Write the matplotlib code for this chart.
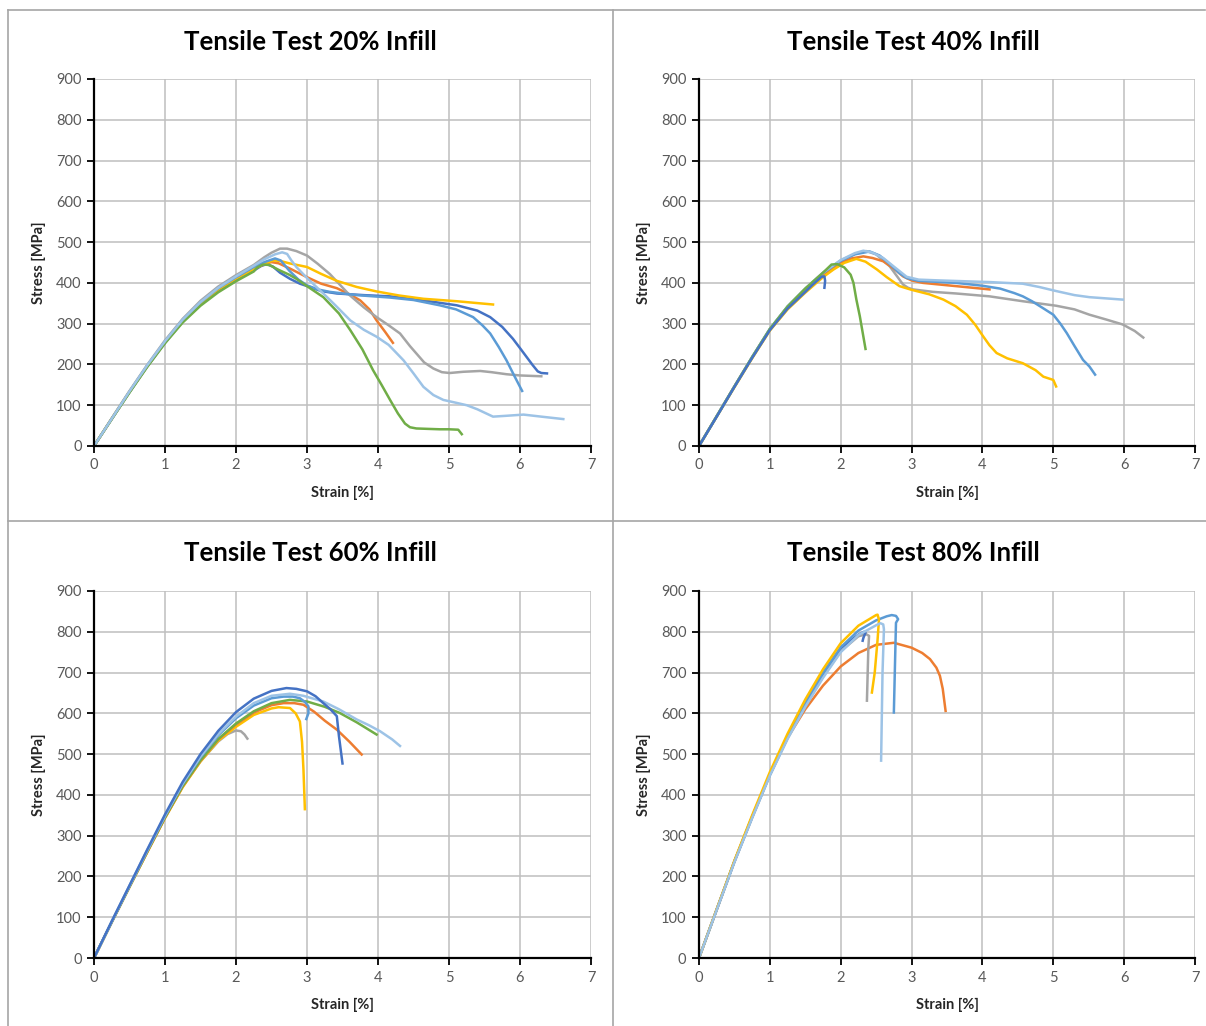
#!/usr/bin/env python3
import matplotlib.pyplot as plt
from matplotlib.lines import Line2D

# Excel-like colour palette
C_DBLUE = '#4472C4'
C_MBLUE = '#5B9BD5'
C_LBLUE = '#9DC3E6'
C_ORANGE = '#ED7D31'
C_GRAY = '#A5A5A5'
C_YELLOW = '#FFC000'
C_GREEN = '#70AD47'

# strain steps used for the elastic part of every curve
RISE = [0, 0.25, 0.5, 0.75, 1.0, 1.25, 1.5, 1.75, 2.0, 2.25, 2.5]

# ---- 20% infill: strain [%] / stress [MPa] ----
e20_dblue = RISE[:10] + [2.35, 2.43, 2.52, 2.62, 2.76, 2.9, 3.04, 3.2, 3.42, 3.8, 4.17, 4.64, 5.11, 5.4,
                         5.58, 5.75, 5.9, 6.0, 6.09, 6.18, 6.25, 6.3, 6.38]
s20_dblue = [0, 66, 132, 195, 253, 305, 347, 381, 408, 430, 441, 446, 440, 425, 410, 398, 390, 380, 374, 370,
             367, 357, 345, 332, 316, 292, 263, 240, 219, 198, 183, 179, 178]
e20_orange = RISE[:10] + [2.4, 2.5, 2.6, 2.75, 3.0, 3.2, 3.42, 3.6, 3.75, 3.88, 3.98, 4.1, 4.21]
s20_orange = [0, 67, 133, 196, 255, 307, 350, 384, 411, 434, 446, 451, 448, 436, 414, 398, 387, 372, 357, 335,
              308, 280, 253]
e20_gray = RISE[:10] + [2.4, 2.5, 2.62, 2.72, 2.85, 3.0, 3.15, 3.32, 3.45, 3.6, 3.8, 3.98, 4.15, 4.31, 4.45,
                        4.54, 4.65, 4.78, 4.9, 5.01, 5.2, 5.44, 5.6, 5.81, 6.0, 6.3]
s20_gray = [0, 68, 135, 199, 259, 312, 356, 391, 419, 444, 463, 474, 484, 484, 478, 467, 447, 422, 398, 370,
            340, 316, 296, 276, 245, 227, 205, 190, 181, 179, 182, 184, 181, 176, 173, 171]
e20_yellow = RISE[:10] + [2.4, 2.52, 2.62, 2.75, 3.0, 3.2, 3.42, 3.7, 3.98, 4.3, 4.64, 5.11, 5.62]
s20_yellow = [0, 67, 133, 196, 255, 307, 350, 384, 411, 434, 447, 455, 454, 448, 439, 422, 405, 390, 379, 369,
              361, 355, 347]
e20_mblue = RISE[:10] + [2.4, 2.55, 2.63, 2.75, 2.88, 3.0, 3.15, 3.32, 3.7, 4.17, 4.5, 4.87, 5.1, 5.34, 5.47,
                         5.58, 5.7, 5.81, 5.92, 6.03]
s20_mblue = [0, 67, 133, 197, 256, 309, 352, 387, 414, 439, 451, 460, 455, 430, 408, 394, 384, 378, 370, 364,
             358, 345, 335, 316, 296, 276, 243, 210, 172, 135]
e20_green = RISE[:10] + [2.3, 2.38, 2.47, 2.6, 2.75, 2.85, 3.0, 3.23, 3.45, 3.61, 3.78, 3.93, 4.05, 4.17, 4.28,
                         4.38, 4.45, 4.54, 4.7, 4.87, 5.0, 5.13, 5.18]
s20_green = [0, 66, 131, 194, 252, 303, 344, 377, 404, 428, 438, 445, 444, 432, 420, 410, 392, 365, 325, 284,
             237, 186, 150, 113, 80, 55, 46, 43, 42, 41, 41, 40, 29]
e20_lblue = RISE[:10] + [2.4, 2.55, 2.65, 2.72, 2.78, 2.85, 3.0, 3.23, 3.4, 3.61, 3.8, 3.98, 4.15, 4.36, 4.5,
                         4.64, 4.78, 4.92, 5.1, 5.25, 5.4, 5.62, 5.8, 6.05, 6.3, 6.61]
s20_lblue = [0, 67, 134, 198, 257, 310, 353, 388, 416, 442, 458, 470, 475, 471, 455, 439, 412, 374, 345, 308,
             285, 268, 248, 210, 178, 145, 125, 113, 106, 100, 90, 72, 74, 77, 72, 66]

# ---- 40% infill ----
e40_gray = RISE[:9] + [2.2, 2.36, 2.5, 2.69, 2.8, 2.88, 2.95, 3.02, 3.3, 3.63, 4.1, 4.57, 5.04, 5.3, 5.51, 5.75,
                       5.98, 6.15, 6.27]
s40_gray = [0, 73, 146, 218, 287, 342, 386, 425, 455, 471, 478, 470, 441, 415, 396, 388, 384, 378, 374, 367, 355,
            344, 335, 322, 310, 298, 282, 266]
e40_orange = RISE[:8] + [2.0, 2.15, 2.32, 2.45, 2.6, 2.75, 2.88, 3.0, 3.16, 3.63, 4.1]
s40_orange = [0, 73, 146, 217, 285, 339, 382, 420, 450, 460, 465, 461, 453, 435, 416, 406, 400, 392, 384]
e40_yellow = RISE[:7] + [1.75, 1.9, 2.05, 2.22, 2.35, 2.51, 2.65, 2.83, 3.0, 3.25, 3.45, 3.62, 3.78, 3.9, 4.01,
                         4.1, 4.2, 4.35, 4.57, 4.75, 4.86, 5.0, 5.04]
s40_yellow = [0, 72, 144, 215, 283, 335, 376, 414, 433, 449, 459, 452, 433, 414, 392, 383, 372, 359, 343, 322,
              297, 269, 247, 228, 215, 203, 186, 170, 162, 146]
e40_mblue = RISE[:9] + [2.2, 2.41, 2.55, 2.7, 2.82, 2.93, 3.1, 3.63, 4.0, 4.25, 4.45, 4.57, 4.7, 4.81, 5.0, 5.1,
                        5.19, 5.3, 5.42, 5.51, 5.59]
s40_mblue = [0, 73, 146, 218, 287, 342, 385, 424, 454, 470, 477, 467, 445, 425, 412, 405, 400, 393, 386, 375, 367,
             355, 343, 322, 300, 277, 245, 211, 195, 175]
e40_lblue = RISE[:9] + [2.2, 2.32, 2.45, 2.6, 2.75, 2.93, 3.1, 3.4, 4.1, 4.57, 4.8, 5.04, 5.3, 5.51, 5.98]
s40_lblue = [0, 73, 146, 218, 287, 342, 386, 425, 456, 473, 479, 474, 461, 440, 415, 408, 406, 402, 398, 390, 380,
             370, 365, 359]
e40_green = RISE[:8] + [1.87, 1.95, 2.05, 2.14, 2.18, 2.22, 2.27, 2.35]
s40_green = [0, 73, 146, 218, 287, 342, 386, 425, 445, 446, 438, 420, 400, 360, 318, 238]
e40_dblue = RISE[:7] + [1.6, 1.73, 1.77, 1.78, 1.77]
s40_dblue = [0, 72, 145, 216, 284, 337, 378, 395, 415, 416, 405, 388]

# ---- 60% infill ----
e60_gray = RISE[:8] + [1.88, 2.0, 2.07, 2.12, 2.16]
s60_gray = [0, 88, 175, 261, 345, 421, 482, 531, 549, 558, 556, 548, 538]
e60_yellow = RISE + [2.6, 2.76, 2.84, 2.9, 2.93, 2.95, 2.97]
s60_yellow = [0, 88, 174, 259, 343, 419, 482, 533, 567, 596, 612, 615, 613, 600, 580, 530, 463, 365]
e60_orange = RISE + [2.67, 2.82, 2.95, 3.1, 3.25, 3.42, 3.6, 3.77]
s60_orange = [0, 88, 175, 260, 344, 421, 484, 536, 573, 602, 620, 625, 625, 621, 604, 582, 560, 530, 499]
e60_green = RISE + [2.76, 3.0, 3.25, 3.46, 3.7, 3.98]
s60_green = [0, 88, 175, 261, 345, 422, 485, 537, 575, 605, 625, 633, 629, 616, 601, 578, 548]
e60_mblue = RISE + [2.67, 2.8, 2.9, 2.97, 3.02, 3.02, 2.99]
s60_mblue = [0, 89, 176, 263, 348, 427, 492, 546, 588, 619, 637, 641, 641, 637, 628, 617, 600, 586]
e60_lblue = RISE + [2.76, 2.95, 3.23, 3.45, 3.7, 3.87, 4.03, 4.2, 4.31]
s60_lblue = [0, 89, 177, 264, 349, 428, 494, 549, 592, 625, 643, 648, 643, 629, 610, 585, 571, 556, 536, 520]
e60_dblue = RISE + [2.71, 2.85, 3.0, 3.12, 3.23, 3.33, 3.42, 3.45, 3.5]
s60_dblue = [0, 90, 178, 266, 352, 432, 500, 557, 603, 636, 655, 662, 660, 654, 642, 625, 610, 593, 544, 477]

# ---- 80% infill ----
e80_orange = RISE + [2.75, 3.0, 3.15, 3.26, 3.35, 3.4, 3.44, 3.48]
s80_orange = [0, 119, 237, 346, 450, 540, 610, 668, 715, 748, 768, 773, 761, 748, 733, 712, 692, 660, 606]
e80_gray = RISE[:10] + [2.36, 2.4, 2.39, 2.37]
s80_gray = [0, 118, 236, 344, 448, 539, 618, 690, 752, 789, 794, 790, 760, 631]
e80_dblue = RISE[:10] + [2.33, 2.35, 2.32, 2.31]
s80_dblue = [0, 119, 237, 346, 450, 542, 625, 698, 760, 793, 800, 798, 785, 778]
e80_mblue = RISE + [2.65, 2.72, 2.78, 2.81, 2.78, 2.77, 2.75]
s80_mblue = [0, 119, 237, 346, 450, 542, 625, 698, 762, 803, 828, 838, 841, 839, 831, 822, 750, 602]
e80_yellow = RISE + [2.52, 2.54, 2.52, 2.48, 2.44]
s80_yellow = [0, 120, 239, 350, 456, 550, 634, 708, 772, 815, 841, 842, 830, 780, 700, 651]
e80_lblue = RISE + [2.56, 2.6, 2.61, 2.59, 2.57]
s80_lblue = [0, 118, 235, 343, 447, 537, 616, 687, 750, 792, 816, 821, 818, 806, 700, 484]

W, H = 1206, 1026
FONT = ['Lato', 'DejaVu Sans']
plt.rcParams['font.family'] = FONT


def draw_panel(ax, curves):
    for strain, stress, color in curves:
        ax.plot(strain, stress, color=color, linewidth=1.8, solid_joinstyle='round')
    ax.set_xlim(0, 7)
    ax.set_ylim(0, 900)
    ax.set_xticks(range(0, 8))
    ax.set_yticks(range(0, 901, 100))
    ax.grid(True, color='#BFBFBF', linewidth=1.1)
    ax.set_axisbelow(True)
    for side in ('top', 'right'):
        ax.spines[side].set_visible(False)
    for side in ('left', 'bottom'):
        ax.spines[side].set_linewidth(1.6)
        ax.spines[side].set_color('black')
    ax.tick_params(direction='out', length=5, width=1.3, color='black',
                   labelcolor='#595959', labelsize=10.5, pad=4)
    ax.set_xlabel('Strain [%]', fontsize=10.5, fontweight='bold', color='#262626')
    ax.set_ylabel('Stress [MPa]', fontsize=10.5, fontweight='bold', color='#262626')
    ax.xaxis.set_label_coords(0.5, -0.11)
    ax.yaxis.set_label_coords(-0.097, 0.5)


fig = plt.figure(figsize=(W / 100, H / 100), dpi=100)

# panel geometry in pixels: x at strain 0 / 7, y at stress 0 / 900, title centre
panels = [
    (94, 591, 446, 79, 310, 42, 'Tensile Test 20% Infill',
     [(e20_dblue, s20_dblue, C_DBLUE), (e20_orange, s20_orange, C_ORANGE),
      (e20_gray, s20_gray, C_GRAY), (e20_yellow, s20_yellow, C_YELLOW),
      (e20_mblue, s20_mblue, C_MBLUE), (e20_green, s20_green, C_GREEN),
      (e20_lblue, s20_lblue, C_LBLUE)]),
    (699, 1195, 446, 79, 913, 42, 'Tensile Test 40% Infill',
     [(e40_gray, s40_gray, C_GRAY), (e40_orange, s40_orange, C_ORANGE),
      (e40_yellow, s40_yellow, C_YELLOW), (e40_mblue, s40_mblue, C_MBLUE),
      (e40_lblue, s40_lblue, C_LBLUE), (e40_green, s40_green, C_GREEN),
      (e40_dblue, s40_dblue, C_DBLUE)]),
    (94, 591, 958, 591, 310, 553, 'Tensile Test 60% Infill',
     [(e60_gray, s60_gray, C_GRAY), (e60_yellow, s60_yellow, C_YELLOW),
      (e60_orange, s60_orange, C_ORANGE), (e60_green, s60_green, C_GREEN),
      (e60_mblue, s60_mblue, C_MBLUE), (e60_lblue, s60_lblue, C_LBLUE),
      (e60_dblue, s60_dblue, C_DBLUE)]),
    (699, 1195, 958, 591, 913, 553, 'Tensile Test 80% Infill',
     [(e80_orange, s80_orange, C_ORANGE), (e80_gray, s80_gray, C_GRAY),
      (e80_dblue, s80_dblue, C_DBLUE), (e80_mblue, s80_mblue, C_MBLUE),
      (e80_yellow, s80_yellow, C_YELLOW), (e80_lblue, s80_lblue, C_LBLUE)]),
]

for x0, x7, y0, y9, tx, ty, title, curves in panels:
    ax = fig.add_axes([x0 / W, 1 - y0 / H, (x7 - x0) / W, (y0 - y9) / H])
    draw_panel(ax, curves)
    fig.text(tx / W, 1 - ty / H, title, ha='center', va='center',
             fontsize=18.5, fontweight='bold', color='black')

# chart frames
frame = dict(color='#A6A6A6', linewidth=1.2, transform=fig.transFigure)
fig.add_artist(Line2D([8 / W, 1205 / W], [1 - 10 / H, 1 - 10 / H], **frame))
fig.add_artist(Line2D([8 / W, 8 / W], [1 - 10 / H, 0], **frame))
fig.add_artist(Line2D([613 / W, 613 / W], [1 - 10 / H, 0], **frame))
fig.add_artist(Line2D([8 / W, 1], [1 - 521 / H, 1 - 521 / H], **frame))

fig.savefig('out.png', dpi=100)
